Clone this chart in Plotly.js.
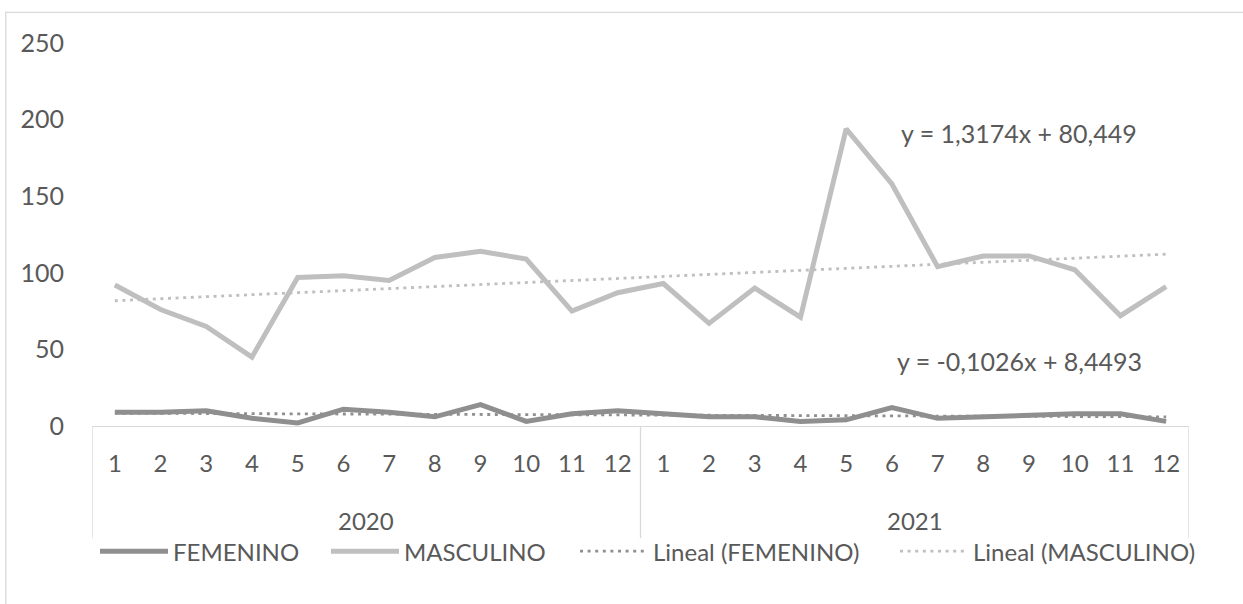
<!DOCTYPE html>
<html>
<head>
<meta charset="utf-8">
<script src="https://cdn.plot.ly/plotly-3.0.1.min.js"></script>
<style>
html,body{margin:0;padding:0;background:#fff;overflow:hidden;}
#chart{width:1243px;height:604px;}
</style>
</head>
<body>
<div id="chart"></div>
<script>
const years = ["2020", "2021"];
const months = ["1","2","3","4","5","6","7","8","9","10","11","12"];
const femenino = [9, 9, 10, 5, 2, 11, 9, 6, 14, 3, 8, 10, 8, 6, 6, 3, 4, 12, 5, 6, 7, 8, 8, 3];
const masculino = [92, 76, 65, 45, 97, 98, 95, 110, 114, 109, 75, 87, 93, 67, 90, 71, 194, 158, 104, 111, 111, 102, 72, 91];
const seriesNames = ["FEMENINO", "MASCULINO", "Lineal (FEMENINO)", "Lineal (MASCULINO)"];
const eqFem = "y = -0,1026x + 8,4493";
const eqMasc = "y = 1,3174x + 80,449";

const xIdx = [], xLabels = [];
years.forEach((y, yi) => months.forEach((m, mi) => { xIdx.push(yi * months.length + mi + 1); xLabels.push(m); }));
const nCat = xIdx.length;

function linfit(vals) {
  const n = vals.length;
  let sx = 0, sy = 0, sxx = 0, sxy = 0;
  vals.forEach((v, i) => { const x = i + 1; sx += x; sy += v; sxx += x * x; sxy += x * v; });
  const b = (n * sxy - sx * sy) / (n * sxx - sx * sx);
  const a = (sy - b * sx) / n;
  return vals.map((v, i) => a + b * (i + 1));
}

const FONT = "Lato, 'Open Sans', sans-serif";
const TXT = "#595959";
const DARK = "#8f8f8f";
const LIGHT = "#bfbfbf";
const GRID = "#d9d9d9";

const traces = [
  {x: xIdx, y: femenino, type: "scatter", mode: "lines", name: seriesNames[0], legend: "legend",
   line: {color: DARK, width: 5}},
  {x: xIdx, y: masculino, type: "scatter", mode: "lines", name: seriesNames[1], legend: "legend2",
   line: {color: LIGHT, width: 5}},
  {x: xIdx, y: linfit(femenino), type: "scatter", mode: "lines", name: seriesNames[2], legend: "legend3",
   line: {color: DARK, width: 2.8, dash: "3px,4.6px"}},
  {x: xIdx, y: linfit(masculino), type: "scatter", mode: "lines", name: seriesNames[3], legend: "legend4",
   line: {color: LIGHT, width: 2.8, dash: "3px,4.6px"}}
];

const shapes = [
  {type: "rect", xref: "paper", yref: "paper", x0: -0.0786, x1: 1.2, y0: -0.6, y1: 1.08,
   line: {color: GRID, width: 1.3}, layer: "below"}
];
const annotations = [];
for (let g = 0; g <= years.length; g++) {
  const xb = g * months.length + 0.5;
  shapes.push({type: "line", xref: "x", yref: "paper", x0: xb, x1: xb, y0: 0, y1: -0.293,
               line: {color: GRID, width: 1.3}});
}
years.forEach((y, g) => {
  annotations.push({text: y, xref: "x", yref: "paper", x: g * months.length + (months.length + 1) / 2,
                    y: -0.247, showarrow: false, yanchor: "middle",
                    font: {family: FONT, size: 24, color: TXT}});
});
annotations.push({text: eqMasc, xref: "x", yref: "y", x: 20.77, y: 191, showarrow: false,
                  font: {family: FONT, size: 25, color: TXT}});
annotations.push({text: eqFem, xref: "x", yref: "y", x: 20.8, y: 42.5, showarrow: false,
                  font: {family: FONT, size: 25, color: TXT}});

function leg(px) {
  return {orientation: "h", x: (px - 92) / 1097, xanchor: "left", y: -0.328, yanchor: "middle",
          font: {family: FONT, size: 24, color: TXT}, itemwidth: 68, bgcolor: "rgba(0,0,0,0)"};
}

const layout = {
  width: 1243, height: 604,
  margin: {l: 92, r: 54, t: 43, b: 178},
  paper_bgcolor: "#fff", plot_bgcolor: "#fff",
  font: {family: FONT, color: TXT, size: 24},
  showlegend: true,
  legend: leg(95),
  legend2: leg(326),
  legend3: leg(575),
  legend4: leg(895),
  xaxis: {range: [0.5, nCat + 0.5], tickmode: "array", tickvals: xIdx, ticktext: xLabels,
          showline: true, linecolor: GRID, linewidth: 1.3, showgrid: false, zeroline: false,
          ticks: "", ticklabelstandoff: 16, tickfont: {family: FONT, size: 24, color: TXT}},
  yaxis: {range: [0, 250], dtick: 50, showgrid: false, zeroline: false, showline: false,
          ticks: "", tickfont: {family: FONT, size: 25, color: TXT}, ticklabelstandoff: 27},
  annotations: annotations,
  shapes: shapes
};

Plotly.newPlot("chart", traces, layout, {displayModeBar: false, staticPlot: true});
</script>
</body>
</html>
